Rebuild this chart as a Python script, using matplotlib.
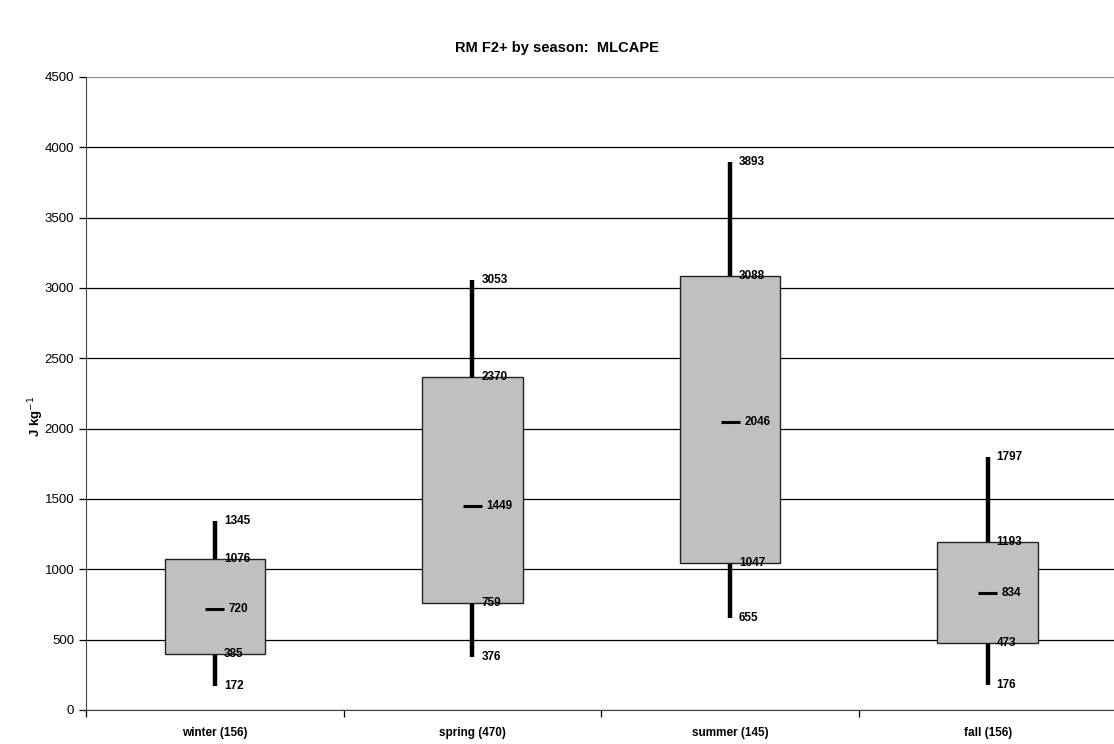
import numpy as np
import matplotlib
matplotlib.use("Agg")
import matplotlib.pyplot as plt

plt.rcParams['font.family'] = ['Liberation Sans', 'DejaVu Sans']

# Box plot summary values per season
seasons = ["winter (156)", "spring (470)", "summer (145)", "fall (156)"]
mins = [172, 376, 655, 176]
q1s = [395, 759, 1047, 473]
medians = [720, 1449, 2046, 834]
q3s = [1076, 2370, 3088, 1193]
maxs = [1345, 3053, 3893, 1797]
q1_labels = ["385", "759", "1047", "473"]

fig = plt.figure(figsize=(11.14, 7.44), dpi=100)
ax = fig.add_axes([0.0772, 0.0457, 0.925, 0.851])

x = np.arange(len(seasons))

# grid
ax.set_axisbelow(True)
ax.yaxis.grid(True, color="black", linewidth=0.9)

# whiskers
ax.vlines(x, mins, q1s, color="black", linewidth=3.2, zorder=2)
ax.vlines(x, q3s, maxs, color="black", linewidth=3.2, zorder=2)

# boxes
ax.bar(x, np.array(q3s) - np.array(q1s), bottom=q1s, width=0.39,
       color="#c0c0c0", edgecolor="#222222", linewidth=1.0, zorder=3)

# medians
ax.hlines(medians, x - 0.037, x + 0.037, color="black", linewidth=2.2, zorder=4)

lab = dict(fontsize=8.5, fontweight="bold", va="center", ha="left", zorder=5)
for i in range(len(seasons)):
    ax.text(x[i] + 0.035, maxs[i], str(maxs[i]), **lab)
    ax.text(x[i] + 0.035, q3s[i], str(q3s[i]), **lab)
    ax.text(x[i] + 0.035, q1s[i], q1_labels[i], **lab)
    ax.text(x[i] + 0.035, mins[i], str(mins[i]), **lab)
    ax.text(x[i] + 0.055, medians[i], str(medians[i]), **lab)

ax.set_xlim(-0.5, len(seasons) - 0.5)
ax.set_ylim(0, 4500)
ax.set_yticks(np.arange(0, 4501, 500))
ax.tick_params(axis="y", labelsize=9.5, length=5, direction="out", width=0.9)
ax.get_ygridlines()[-1].set_color("#888888")

ax.set_xticks(np.arange(-0.5, len(seasons), 1))
ax.set_xticklabels([])
ax.set_xticks(x, minor=True)
ax.set_xticklabels(seasons, minor=True, fontsize=8.5, fontweight="bold")
ax.tick_params(axis="x", which="major", length=5, direction="out", width=0.9)
ax.tick_params(axis="x", which="minor", length=0, pad=12)

for side in ["top", "right"]:
    ax.spines[side].set_visible(False)
ax.spines["left"].set_color("#444444")
ax.spines["bottom"].set_color("#444444")

ax.set_ylabel("J kg$^{-1}$", fontsize=9.5, fontweight="bold")
ax.yaxis.set_label_coords(-0.039, 0.464)

fig.suptitle("RM F2+ by season:  MLCAPE", y=0.945, fontsize=10.5, fontweight="bold")

fig.savefig("out.png", dpi=100)
